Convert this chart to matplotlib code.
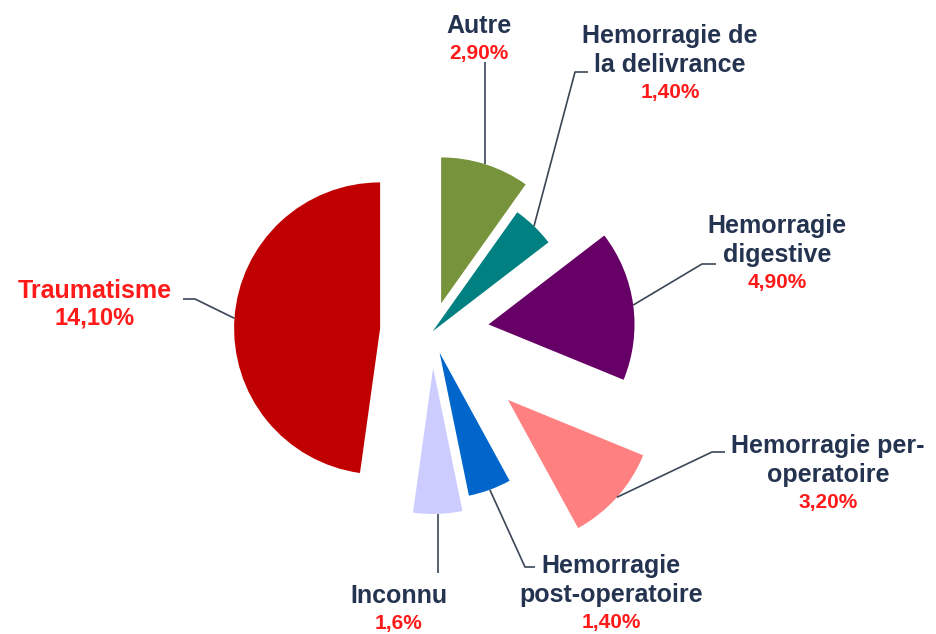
import matplotlib
matplotlib.use("Agg")
import numpy as np
import matplotlib.pyplot as plt

plt.rcParams["font.family"] = ["Liberation Sans", "DejaVu Sans"]

# data
categories = ["Autre", "Hemorragie de la delivrance", "Hemorragie digestive",
              "Hemorragie per-operatoire", "Hemorragie post-operatoire",
              "Inconnu", "Traumatisme"]
values = [2.90, 1.40, 4.90, 3.20, 1.40, 1.6, 14.10]
pct_labels = ["2,90%", "1,40%", "4,90%", "3,20%", "1,40%", "1,6%", "14,10%"]
name_lines = [["Autre"], ["Hemorragie de", "la delivrance"],
              ["Hemorragie", "digestive"], ["Hemorragie per-", "operatoire"],
              ["Hemorragie", "post-operatoire"], ["Inconnu"], ["Traumatisme"]]

colors = ["#77933C", "#008080", "#660066", "#FF8080", "#0066CC", "#CCCCFF", "#C00000"]
explode = [30, 1, 57, 102, 22, 36, 52]   # in pixels (axes are pixel units)

# label layout in pixels: text centre x, first baseline, leader points after the arc
# (x = None -> straight vertical line from the arc point)
text_pos = [(479, 33), (670, 43), (777, 233), (828, 453), (611, 573), (399, 603), (95, 298)]
leaders = [[(None, 62)],
           [(575, 72), (588, 72)],
           [(702, 264), (716, 264)],
           [(712, 452), (725, 452)],
           [(525, 567), (535, 567)],
           [(None, 573)],
           [(195, 299), (183, 299)]]

W, H = 937, 634
NAVY = "#243350"
RED = "#FF1A1A"
LINE = "#3A4656"

fig = plt.figure(figsize=(W / 100, H / 100), dpi=100)
ax = fig.add_axes([0, 0, 1, 1])

wedges, _ = ax.pie(values, colors=colors, explode=explode, radius=146,
                   center=(432, 332), startangle=-90, counterclock=True,
                   wedgeprops=dict(linewidth=0))
ax.set_xlim(0, W)
ax.set_ylim(H, 0)
ax.set_aspect("equal")
ax.axis("off")

for i, w in enumerate(wedges):
    mid = np.deg2rad((w.theta1 + w.theta2) / 2)
    cx, cy = w.center
    px = cx + w.r * np.cos(mid)
    py = cy + w.r * np.sin(mid)
    pts = [(px, py)] + [(px if x is None else x, y) for x, y in leaders[i]]
    ax.plot([p[0] for p in pts], [p[1] for p in pts], color=LINE, lw=1.2,
            solid_capstyle="butt")

    tx, ty = text_pos[i]
    name_col = RED if categories[i] == "Traumatisme" else NAVY
    for j, line in enumerate(name_lines[i]):
        ax.text(tx, ty + 29 * j, line, ha="center", va="baseline",
                fontsize=18, fontweight="bold", color=name_col)
    pct_y = ty + 29 * (len(name_lines[i]) - 1) + 26
    ax.text(tx, pct_y, pct_labels[i], ha="center", va="baseline",
            fontsize=17 if categories[i] == "Traumatisme" else 15,
            fontweight="bold", color=RED)

fig.savefig("out.png", dpi=100)
